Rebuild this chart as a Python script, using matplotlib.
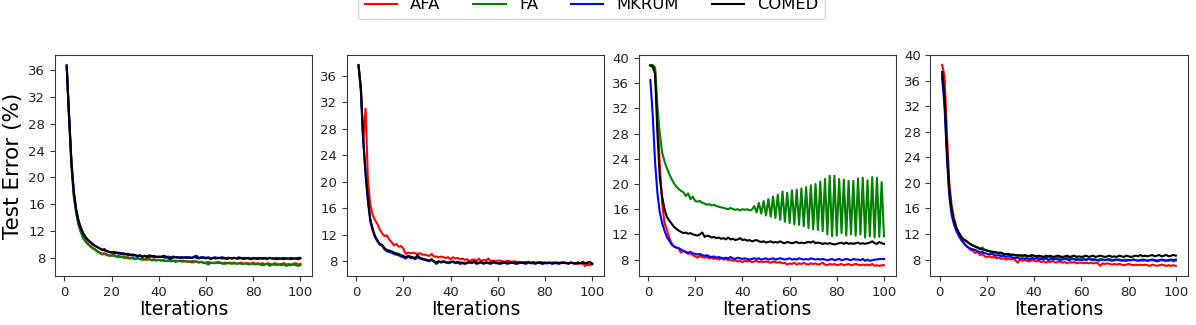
import matplotlib
matplotlib.use("Agg")
import matplotlib.pyplot as plt
from matplotlib.ticker import MultipleLocator

iterations = list(range(1, 101))
series_names = ["AFA", "FA", "MKRUM", "COMED"]
series_colors = ["red", "green", "blue", "black"]

# ---------------- Panel 1 ----------------
p1_afa = [36.8, 29.0, 21.8, 17.3, 14.8, 13.0, 11.9, 11.0, 10.5, 10.1,
          9.8, 9.5, 9.3, 9.0, 8.8, 8.6, 8.7, 8.5, 8.4, 8.3,
          8.5, 8.2, 8.3, 8.1, 8.2, 8.0, 8.1, 7.9, 8.0, 7.9,
          8.0, 7.8, 7.9, 7.7, 7.9, 7.8, 7.7, 7.8, 7.6, 7.7,
          7.6, 7.7, 7.5, 7.6, 7.5, 7.6, 7.4, 7.5, 7.6, 7.4,
          7.5, 7.4, 7.5, 7.3, 7.4, 7.5, 7.3, 7.4, 7.2, 7.3,
          7.4, 7.2, 7.3, 7.2, 7.4, 7.3, 7.1, 7.3, 7.2, 7.3,
          7.2, 7.3, 7.1, 7.2, 7.3, 7.1, 7.2, 7.2, 7.1, 7.3,
          7.1, 7.2, 7.1, 7.2, 7.0, 7.2, 7.1, 7.0, 7.2, 7.1,
          7.0, 7.1, 7.2, 7.0, 7.1, 7.0, 7.1, 7.2, 7.0, 7.1]
p1_fa = [36.6, 28.8, 21.7, 17.2, 14.7, 12.9, 11.8, 10.9, 10.4, 10.0,
         9.7, 9.4, 9.2, 8.9, 8.7, 8.5, 8.6, 8.4, 8.3, 8.4,
         8.3, 8.2, 8.1, 8.2, 8.0, 8.1, 7.9, 8.0, 7.9, 7.8,
         7.9, 7.8, 7.7, 7.8, 7.7, 7.8, 7.6, 7.7, 7.6, 7.7,
         7.6, 7.6, 7.5, 7.6, 7.5, 7.5, 7.6, 7.5, 7.5, 7.6,
         7.5, 7.5, 7.4, 7.5, 7.5, 7.4, 7.3, 7.4, 7.3, 7.2,
         7.0, 7.3, 7.2, 7.3, 7.2, 7.3, 7.2, 7.1, 7.2, 7.2,
         7.1, 7.2, 7.1, 7.2, 7.1, 7.1, 7.2, 7.0, 7.1, 7.1,
         7.0, 7.1, 7.0, 6.9, 7.0, 7.1, 6.8, 7.0, 7.0, 6.9,
         7.0, 6.9, 7.0, 6.8, 6.9, 6.9, 7.0, 6.9, 6.8, 6.9]
p1_mkrum = [36.7, 29.5, 22.5, 18.0, 15.3, 13.6, 12.5, 11.7, 11.1, 10.7,
            10.4, 10.1, 9.8, 9.6, 9.4, 9.2, 9.1, 9.0, 8.9, 8.8,
            8.7, 8.8, 8.6, 8.7, 8.5, 8.6, 8.4, 8.5, 8.3, 8.4,
            8.2, 8.3, 8.1, 8.3, 8.2, 8.1, 8.3, 8.1, 8.2, 8.1,
            8.2, 8.1, 8.0, 8.2, 8.1, 8.0, 8.1, 8.0, 8.1, 8.0,
            8.1, 8.0, 8.1, 8.0, 8.2, 8.3, 8.0, 8.1, 8.0, 8.0,
            8.1, 7.9, 8.0, 8.1, 7.9, 8.0, 8.1, 7.9, 8.0, 8.0,
            7.9, 8.0, 7.9, 8.1, 7.9, 8.0, 7.9, 8.0, 7.9, 8.0,
            7.9, 8.0, 7.9, 7.9, 8.0, 7.9, 8.0, 7.9, 7.9, 8.0,
            7.9, 7.9, 8.0, 7.9, 7.9, 8.0, 7.9, 7.9, 8.0, 8.0]
p1_comed = [36.5, 29.2, 22.3, 17.8, 15.2, 13.5, 12.4, 11.6, 11.0, 10.6,
            10.3, 10.0, 9.8, 9.6, 9.4, 9.2, 9.3, 9.0, 8.9, 8.8,
            8.9, 8.7, 8.8, 8.6, 8.7, 8.5, 8.6, 8.4, 8.5, 8.4,
            8.3, 8.4, 8.2, 8.3, 8.1, 8.4, 8.2, 8.3, 8.1, 8.2,
            8.1, 8.3, 8.2, 8.0, 7.8, 8.2, 8.1, 8.1, 8.0, 8.1,
            8.0, 8.1, 8.0, 8.0, 8.1, 8.0, 7.9, 8.0, 8.1, 7.9,
            8.0, 7.8, 8.0, 7.9, 8.0, 8.0, 7.9, 8.0, 7.8, 8.0,
            7.9, 8.0, 7.9, 7.9, 8.0, 7.8, 8.0, 7.9, 7.8, 7.9,
            7.9, 7.8, 8.0, 7.9, 7.9, 7.8, 8.0, 7.9, 7.9, 7.8,
            7.9, 7.9, 7.8, 7.9, 7.9, 7.8, 7.9, 7.9, 7.8, 7.9]

# ---------------- Panel 2 ----------------
p2_afa = [37.5, 33.5, 26.0, 31.0, 20.0, 16.5, 15.0, 14.2, 13.6, 12.8,
          12.2, 11.8, 11.9, 11.3, 10.9, 10.4, 10.6, 10.2, 10.3, 9.9,
          9.1, 9.3, 9.2, 9.3, 9.2, 9.1, 9.2, 9.0, 9.0, 8.9,
          8.8, 9.1, 8.7, 8.7, 8.6, 8.7, 8.6, 8.5, 8.6, 8.3,
          8.6, 8.4, 8.5, 8.3, 8.4, 8.2, 8.3, 8.0, 8.2, 8.3,
          8.0, 8.4, 8.0, 8.2, 8.1, 8.4, 8.0, 8.1, 8.0, 8.1,
          8.1, 8.0, 7.9, 8.1, 8.0, 7.9, 8.0, 7.9, 7.9, 7.8,
          7.9, 7.8, 7.9, 7.8, 7.9, 7.8, 7.8, 7.9, 7.8, 7.8,
          7.8, 7.7, 7.8, 7.8, 7.7, 7.8, 7.7, 7.8, 7.7, 7.7,
          7.8, 7.7, 7.7, 7.6, 7.7, 7.6, 7.3, 7.5, 7.4, 7.6]
p2_fa = None  # FA curve not visible in this panel
p2_mkrum = [37.5, 34.0, 26.0, 21.0, 17.0, 14.0, 12.6, 11.6, 11.0, 10.5,
            10.3, 9.8, 9.5, 9.4, 9.3, 9.1, 9.0, 8.9, 8.7, 8.6,
            8.4, 8.7, 8.5, 8.5, 8.3, 8.6, 8.4, 8.3, 8.2, 8.1,
            8.0, 8.2, 7.9, 7.6, 7.9, 7.8, 7.9, 7.8, 7.7, 7.8,
            7.9, 7.7, 7.8, 7.6, 7.7, 7.6, 7.7, 7.8, 7.7, 7.9,
            7.6, 7.7, 7.8, 7.6, 7.8, 7.7, 7.6, 7.8, 7.7, 7.7,
            7.6, 7.7, 7.8, 7.6, 7.7, 7.8, 7.7, 7.6, 7.7, 7.8,
            7.7, 7.6, 7.8, 7.7, 7.7, 7.6, 7.8, 7.7, 7.6, 7.7,
            7.7, 7.8, 7.6, 7.7, 7.7, 7.6, 7.8, 7.7, 7.8, 7.6,
            7.8, 7.7, 7.6, 7.8, 7.7, 7.9, 7.7, 7.8, 7.9, 7.6]
p2_comed = [37.6, 34.2, 26.5, 21.3, 17.3, 14.3, 12.9, 11.8, 11.2, 10.6,
            10.5, 10.0, 9.7, 9.6, 9.5, 9.3, 9.2, 9.1, 8.9, 8.8,
            8.6, 8.8, 8.7, 8.6, 8.5, 8.9, 8.5, 8.4, 8.3, 8.2,
            8.1, 8.3, 8.0, 7.8, 8.0, 7.9, 8.0, 7.9, 7.8, 7.9,
            8.0, 7.8, 7.9, 7.8, 7.8, 7.7, 7.8, 7.9, 7.8, 8.0,
            7.7, 7.8, 7.9, 7.7, 7.8, 7.8, 7.7, 7.9, 7.8, 7.7,
            7.7, 7.8, 7.8, 7.7, 7.8, 7.8, 7.7, 7.7, 7.8, 7.8,
            7.7, 7.8, 7.9, 7.7, 7.8, 7.7, 7.8, 7.8, 7.7, 7.8,
            7.7, 7.8, 7.7, 7.8, 7.8, 7.7, 7.8, 7.8, 7.7, 7.7,
            7.8, 7.7, 7.7, 7.8, 7.7, 7.8, 7.7, 7.7, 7.9, 7.6]

# ---------------- Panel 3 ----------------
p3_afa = [38.8, 38.7, 38.3, 31.0, 23.0, 17.0, 13.8, 12.8, 11.5, 10.6,
          10.1, 9.9, 9.8, 9.1, 9.4, 9.2, 8.9, 9.0, 8.7, 8.5,
          8.3, 8.6, 8.4, 8.3, 8.4, 8.2, 8.3, 8.1, 8.2, 8.0,
          8.2, 8.0, 8.1, 7.9, 8.0, 7.8, 7.9, 7.7, 7.8, 7.6,
          7.8, 7.7, 7.8, 7.6, 7.7, 7.8, 7.6, 7.7, 7.6, 7.7,
          7.6, 7.5, 7.7, 7.6, 7.5, 7.6, 7.4, 7.5, 7.2, 7.4,
          7.3, 7.5, 7.2, 7.4, 7.3, 7.5, 7.3, 7.2, 7.4, 7.3,
          7.4, 7.2, 7.3, 7.5, 7.2, 7.1, 7.3, 7.2, 7.3, 7.1,
          7.2, 7.3, 7.1, 7.2, 7.3, 7.1, 7.2, 7.3, 7.2, 7.1,
          7.2, 7.1, 7.2, 7.1, 7.3, 7.0, 7.1, 7.0, 7.1, 7.1]
p3_fa = [38.9, 38.9, 38.5, 32.3, 28.0, 25.0, 23.6, 22.5, 21.6, 20.8,
         20.1, 19.6, 19.2, 18.9, 18.7, 18.1, 18.5, 17.6, 18.0, 17.3,
         17.2, 17.3, 17.0, 16.9, 16.7, 16.8, 16.6, 16.7, 16.5, 16.4,
         16.3, 16.2, 16.1, 16.0, 16.2, 16.0, 15.9, 16.0, 15.8, 16.0,
         15.9, 16.0, 15.8, 15.9, 16.5, 15.5, 17.0, 15.3, 17.3, 15.0,
         17.6, 14.8, 18.0, 14.6, 18.3, 14.3, 18.8, 14.0, 18.6, 13.8,
         19.0, 13.6, 19.1, 13.5, 19.3, 13.3, 19.5, 13.0, 19.8, 12.8,
         20.0, 12.7, 20.4, 12.5, 20.8, 12.0, 21.3, 11.7, 21.3, 11.8,
         20.8, 12.2, 20.7, 11.8, 20.5, 12.0, 20.5, 11.8, 20.9, 12.0,
         21.0, 11.5, 20.6, 11.7, 21.1, 11.5, 21.0, 11.6, 20.3, 11.7]
p3_mkrum = [36.5, 31.0, 23.5, 18.5, 15.5, 13.8, 12.6, 11.6, 11.0, 10.4,
            10.1, 9.9, 9.8, 9.6, 9.4, 9.2, 9.1, 9.2, 9.0, 8.9,
            8.8, 8.9, 8.7, 8.6, 8.7, 8.5, 8.4, 8.5, 8.3, 8.4,
            8.3, 8.2, 8.3, 8.2, 8.4, 8.2, 8.1, 8.3, 8.2, 8.1,
            8.2, 8.1, 8.0, 8.1, 8.2, 8.1, 8.2, 8.0, 8.1, 8.2,
            8.0, 8.1, 8.2, 8.0, 8.1, 8.2, 8.1, 8.0, 8.1, 8.2,
            8.0, 8.1, 8.0, 8.2, 8.1, 8.0, 8.1, 8.0, 8.2, 8.1,
            8.0, 8.1, 8.0, 8.1, 8.0, 7.9, 8.0, 8.1, 7.9, 8.0,
            8.1, 7.9, 8.0, 8.1, 8.0, 7.9, 8.1, 8.0, 8.0, 7.9,
            8.1, 7.8, 8.0, 7.8, 7.9, 8.0, 8.0, 8.1, 8.1, 8.1]
p3_comed = [38.8, 38.6, 37.5, 28.0, 21.0, 18.0, 16.0, 14.8, 14.2, 13.7,
            13.2, 12.9, 12.6, 12.4, 12.2, 12.3, 12.1, 12.2, 12.0, 11.9,
            11.8, 12.0, 12.3, 11.6, 11.8, 11.7, 11.5, 11.6, 11.4, 11.5,
            11.3, 11.4, 11.2, 11.5, 11.2, 11.3, 11.1, 11.2, 11.4, 11.1,
            11.2, 11.0, 11.1, 10.9, 11.0, 11.1, 10.9, 10.8, 10.9, 10.7,
            10.8, 10.9, 10.7, 10.8, 10.7, 10.9, 10.7, 10.6, 10.8, 10.7,
            10.6, 10.7, 10.8, 10.6, 10.7, 10.6, 10.7, 10.8, 10.7, 10.9,
            10.6, 10.7, 10.6, 10.5, 10.6, 10.5, 10.6, 10.5, 10.4, 10.5,
            10.6, 10.7, 10.5, 10.7, 10.5, 10.6, 10.5, 10.6, 10.7, 10.5,
            10.6, 10.5, 10.6, 10.7, 10.9, 10.6, 10.5, 10.8, 10.6, 10.5]

# ---------------- Panel 4 ----------------
p4_afa = [38.5, 36.8, 28.0, 20.0, 16.5, 14.5, 13.0, 12.0, 11.3, 10.8,
          10.2, 9.9, 9.5, 9.4, 9.0, 9.2, 8.7, 8.9, 8.5, 8.4,
          8.5, 8.3, 8.4, 8.2, 8.3, 8.1, 8.2, 8.0, 8.1, 8.0,
          8.1, 7.9, 7.5, 8.0, 7.8, 7.9, 7.8, 7.7, 7.9, 7.8,
          7.7, 7.8, 7.6, 7.7, 7.5, 7.7, 7.6, 7.8, 7.5, 7.6,
          7.7, 7.5, 7.6, 7.4, 7.6, 7.5, 7.6, 7.4, 7.5, 7.5,
          7.4, 7.5, 7.4, 7.5, 7.4, 7.5, 7.4, 7.0, 7.4, 7.3,
          7.4, 7.3, 7.2, 7.3, 7.2, 7.3, 7.2, 7.1, 7.2, 7.3,
          7.2, 7.1, 7.2, 7.1, 7.2, 7.1, 7.2, 7.1, 7.0, 7.2,
          7.1, 7.0, 7.1, 7.2, 7.1, 7.0, 7.1, 7.0, 7.1, 7.0]
p4_fa = [37.2, 33.0, 25.0, 18.8, 15.6, 14.0, 12.8, 12.1, 11.5, 11.1,
         10.9, 10.6, 10.4, 10.2, 10.1, 9.8, 9.6, 9.9, 9.5, 9.4,
         9.3, 9.2, 9.1, 9.0, 9.1, 8.9, 8.8, 8.9, 8.7, 8.8,
         8.7, 8.6, 8.7, 8.5, 8.6, 8.5, 8.4, 8.6, 8.4, 8.5,
         8.4, 8.3, 8.5, 8.3, 8.2, 8.4, 8.3, 8.2, 8.3, 8.2,
         8.3, 8.1, 8.2, 8.3, 8.1, 8.2, 8.1, 8.2, 8.0, 8.1,
         8.2, 8.0, 8.1, 8.0, 8.1, 8.0, 7.9, 8.1, 8.0, 7.9,
         8.0, 8.1, 7.9, 8.0, 7.9, 8.0, 7.9, 7.8, 8.0, 7.9,
         7.9, 8.0, 7.9, 7.8, 7.9, 7.8, 7.9, 7.8, 7.9, 7.9,
         7.8, 7.9, 7.8, 7.9, 7.8, 7.9, 7.8, 7.9, 7.7, 7.8]
p4_mkrum = [36.5, 32.0, 24.0, 18.0, 15.0, 13.5, 12.5, 11.7, 11.1, 10.6,
            10.2, 9.9, 9.7, 9.6, 9.5, 9.3, 9.1, 9.2, 9.0, 8.9,
            8.8, 8.9, 8.7, 8.6, 8.7, 8.5, 8.6, 8.4, 8.5, 8.4,
            8.3, 8.2, 8.3, 8.1, 8.2, 8.1, 8.2, 8.0, 8.2, 8.1,
            8.2, 8.0, 8.1, 8.0, 8.2, 7.9, 8.1, 8.0, 8.1, 8.0,
            7.9, 8.0, 8.1, 8.0, 7.9, 8.1, 8.0, 7.9, 8.0, 7.9,
            8.0, 7.9, 8.1, 8.0, 7.9, 8.0, 7.8, 7.9, 8.0, 7.9,
            8.0, 7.9, 7.8, 7.9, 8.0, 7.9, 7.8, 7.9, 7.8, 7.9,
            7.9, 8.0, 7.9, 7.8, 7.9, 8.0, 7.9, 7.8, 7.9, 8.0,
            7.9, 7.7, 7.9, 8.0, 7.9, 7.8, 7.9, 8.0, 7.9, 8.0]
p4_comed = [37.4, 33.5, 25.5, 19.0, 15.8, 14.2, 13.0, 12.3, 11.6, 11.2,
            11.0, 10.7, 10.4, 10.2, 10.0, 9.9, 9.7, 9.6, 9.5, 9.4,
            9.3, 9.2, 9.2, 9.1, 9.0, 9.1, 8.9, 8.8, 8.9, 8.7,
            8.8, 8.7, 8.6, 8.7, 8.6, 8.7, 8.6, 8.5, 8.7, 8.6,
            8.5, 8.6, 8.5, 8.4, 8.6, 8.5, 8.6, 8.4, 8.5, 8.6,
            8.5, 8.4, 8.5, 8.6, 8.4, 8.5, 8.6, 8.4, 8.5, 8.4,
            8.5, 8.6, 8.4, 8.5, 8.6, 8.4, 8.5, 8.6, 8.5, 8.4,
            8.5, 8.6, 8.4, 8.5, 8.4, 8.6, 8.5, 8.4, 8.6, 8.5,
            8.4, 8.5, 8.6, 8.5, 8.7, 8.5, 8.6, 8.5, 8.6, 8.7,
            8.5, 8.6, 8.7, 8.5, 8.6, 8.7, 8.5, 8.6, 8.7, 8.6]

panels = [
    [p1_afa, p1_fa, p1_mkrum, p1_comed],
    [p2_afa, p2_fa, p2_mkrum, p2_comed],
    [p3_afa, p3_fa, p3_mkrum, p3_comed],
    [p4_afa, p4_fa, p4_mkrum, p4_comed],
]

plt.rcParams['font.family'] = ['DejaVu Sans']
fig = plt.figure(figsize=(11.96, 3.25), dpi=100)

lefts = [0.046, 0.290, 0.534, 0.778]
bottom, width, height = 0.151, 0.2149, 0.680
spine_col = '#3a3a3a'
handles = {}
for i, data in enumerate(panels):
    ax = fig.add_axes([lefts[i], bottom, width, height])
    for name, col, ys in zip(series_names, series_colors, data):
        if ys is None:
            continue
        ln, = ax.plot(iterations, ys, color=col, lw=1.5, label=name)
        handles.setdefault(name, ln)
    ax.yaxis.set_major_locator(MultipleLocator(4))
    ax.xaxis.set_major_locator(MultipleLocator(20))
    ax.tick_params(labelsize=9.5, colors=spine_col, labelcolor='#222222')
    for s in ax.spines.values():
        s.set_color(spine_col)
    ax.set_xlabel("Iterations", fontsize=13.5, labelpad=1)
    if i == 0:
        ax.set_ylabel("Test Error (%)", fontsize=15.5, labelpad=4)

fig.legend([handles[n] for n in series_names], series_names, ncol=4,
           loc='lower center', bbox_to_anchor=(0.4946, 0.9415),
           borderaxespad=0.0, fontsize=11.75, frameon=True,
           edgecolor='#cccccc')

fig.savefig("out.png", dpi=100)
